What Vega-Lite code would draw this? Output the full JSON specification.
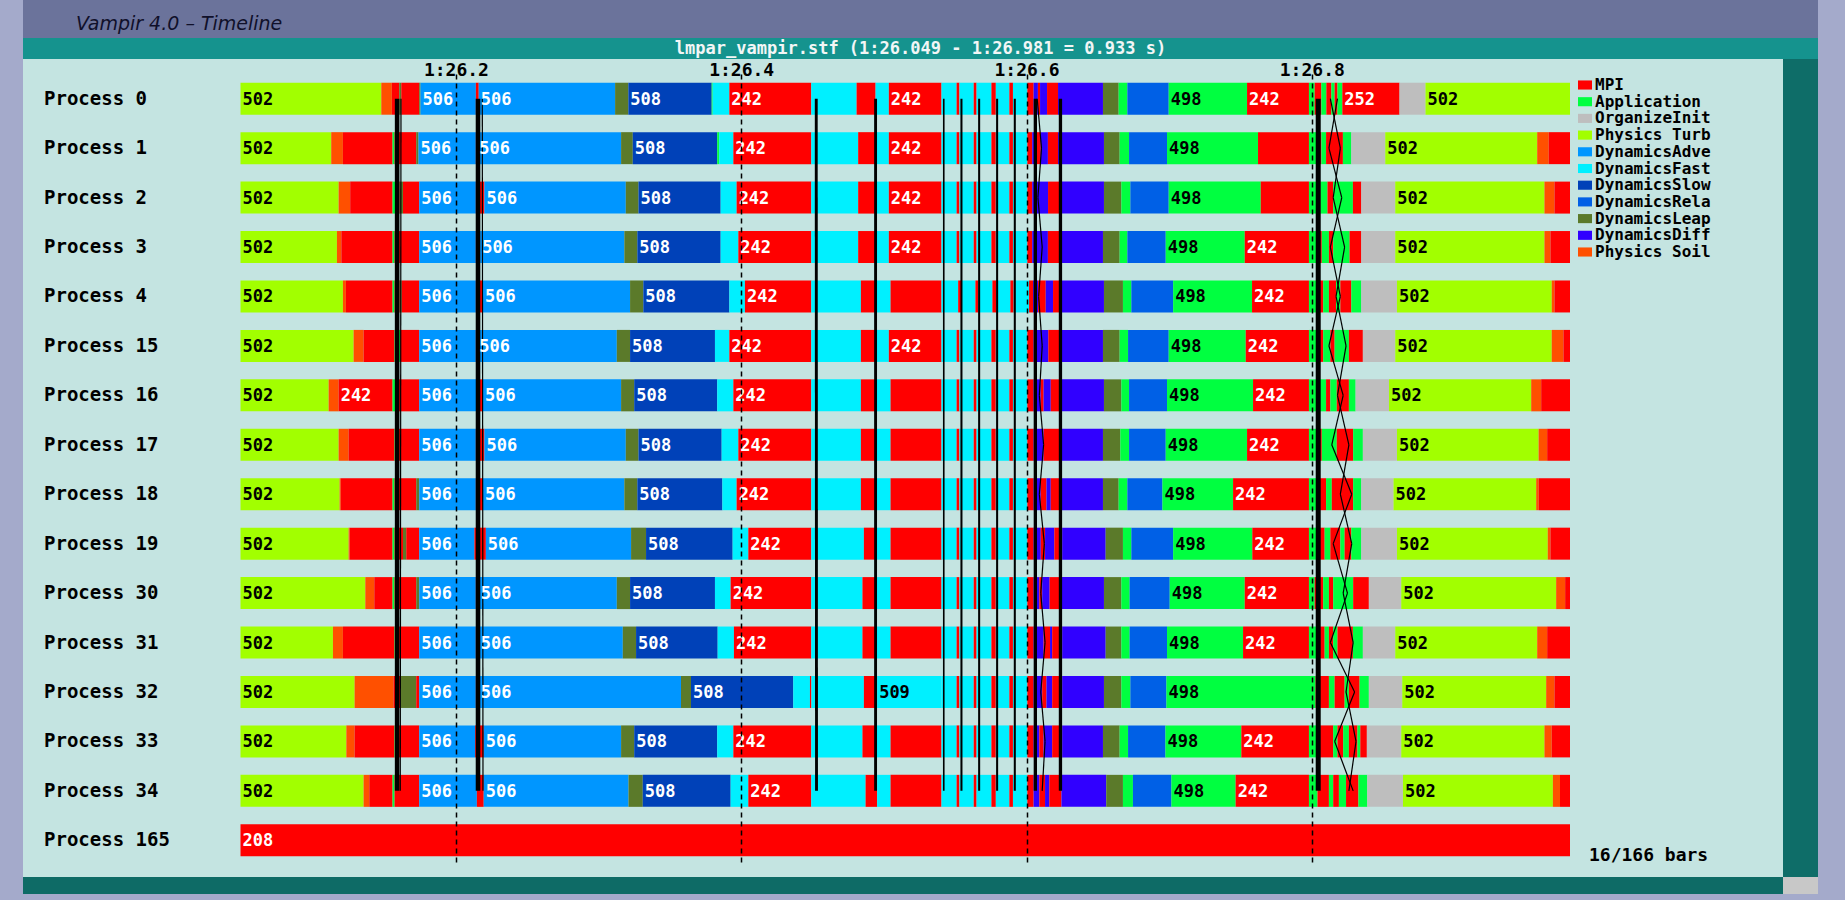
{
"$schema": "https://vega.github.io/schema/vega-lite/v6.json",
"padding": 0,
"background": "#c4e4e1",
"config": {"view": {"stroke": null}},
"spacing": 0,
"datasets": {
"segments": [
{"proc":0,"func":"Physics Turb","t0":49,"t1":147.7,"lab":"502"},
{"proc":0,"func":"Physics Soil","t0":147.7,"t1":155.1},
{"proc":0,"func":"MPI","t0":155.1,"t1":160.3},
{"proc":0,"func":"DynamicsLeap","t0":160.3,"t1":161.7},
{"proc":0,"func":"MPI","t0":161.7,"t1":174.3},
{"proc":0,"func":"DynamicsLeap","t0":174.3,"t1":175.2},
{"proc":0,"func":"DynamicsAdve","t0":175.2,"t1":214,"lab":"506"},
{"proc":0,"func":"MPI","t0":214,"t1":216},
{"proc":0,"func":"DynamicsAdve","t0":216,"t1":311.6,"lab":"506"},
{"proc":0,"func":"DynamicsLeap","t0":311.6,"t1":320.9},
{"proc":0,"func":"DynamicsSlow","t0":320.9,"t1":379.3,"lab":"508"},
{"proc":0,"func":"Application","t0":379.3,"t1":380},
{"proc":0,"func":"DynamicsFast","t0":380,"t1":391.7},
{"proc":0,"func":"MPI","t0":391.7,"t1":449.1,"lab":"242"},
{"proc":0,"func":"DynamicsFast","t0":449.1,"t1":480.9},
{"proc":0,"func":"MPI","t0":480.9,"t1":494.2},
{"proc":0,"func":"DynamicsFast","t0":494.2,"t1":503.5},
{"proc":0,"func":"MPI","t0":503.5,"t1":540.4,"lab":"242"},
{"proc":0,"func":"DynamicsFast","t0":540.4,"t1":551},
{"proc":0,"func":"MPI","t0":551,"t1":553},
{"proc":0,"func":"DynamicsFast","t0":553,"t1":563},
{"proc":0,"func":"MPI","t0":563,"t1":565},
{"proc":0,"func":"DynamicsFast","t0":565,"t1":575.4},
{"proc":0,"func":"MPI","t0":575.4,"t1":578.5},
{"proc":0,"func":"DynamicsFast","t0":578.5,"t1":588},
{"proc":0,"func":"MPI","t0":588,"t1":590.5},
{"proc":0,"func":"DynamicsFast","t0":590.5,"t1":600.6},
{"proc":0,"func":"MPI","t0":600.6,"t1":605},
{"proc":0,"func":"DynamicsDiff","t0":605,"t1":608},
{"proc":0,"func":"MPI","t0":608,"t1":609.5},
{"proc":0,"func":"DynamicsDiff","t0":609.5,"t1":614.4},
{"proc":0,"func":"MPI","t0":614.4,"t1":622.1},
{"proc":0,"func":"DynamicsDiff","t0":622.1,"t1":653.6},
{"proc":0,"func":"DynamicsLeap","t0":653.6,"t1":664.6},
{"proc":0,"func":"Application","t0":664.6,"t1":670.7},
{"proc":0,"func":"DynamicsRela","t0":670.7,"t1":699.7},
{"proc":0,"func":"Application","t0":699.7,"t1":754.6,"lab":"498"},
{"proc":0,"func":"MPI","t0":754.6,"t1":798,"lab":"242"},
{"proc":0,"func":"Application","t0":798,"t1":802},
{"proc":0,"func":"MPI","t0":802,"t1":806.7},
{"proc":0,"func":"Application","t0":806.7,"t1":810.2},
{"proc":0,"func":"MPI","t0":810.2,"t1":813.7},
{"proc":0,"func":"Application","t0":813.7,"t1":816},
{"proc":0,"func":"MPI","t0":816,"t1":818},
{"proc":0,"func":"Application","t0":818,"t1":821.4},
{"proc":0,"func":"MPI","t0":821.4,"t1":861.5,"lab":"252"},
{"proc":0,"func":"OrganizeInit","t0":861.5,"t1":879.7},
{"proc":0,"func":"Physics Turb","t0":879.7,"t1":981,"lab":"502"},

{"proc":1,"func":"Physics Turb","t0":49,"t1":112.6,"lab":"502"},
{"proc":1,"func":"Physics Soil","t0":112.6,"t1":120.8},
{"proc":1,"func":"MPI","t0":120.8,"t1":155.6},
{"proc":1,"func":"Application","t0":155.6,"t1":157},
{"proc":1,"func":"MPI","t0":157,"t1":172.2},
{"proc":1,"func":"DynamicsLeap","t0":172.2,"t1":173.8},
{"proc":1,"func":"DynamicsAdve","t0":173.8,"t1":214,"lab":"506"},
{"proc":1,"func":"MPI","t0":214,"t1":215},
{"proc":1,"func":"DynamicsAdve","t0":215,"t1":315.8,"lab":"506"},
{"proc":1,"func":"DynamicsLeap","t0":315.8,"t1":324},
{"proc":1,"func":"DynamicsSlow","t0":324,"t1":383.2,"lab":"508"},
{"proc":1,"func":"Application","t0":383.2,"t1":384.6},
{"proc":1,"func":"DynamicsFast","t0":384.6,"t1":394.5},
{"proc":1,"func":"MPI","t0":394.5,"t1":449.1,"lab":"242"},
{"proc":1,"func":"DynamicsFast","t0":449.1,"t1":482},
{"proc":1,"func":"MPI","t0":482,"t1":494.2},
{"proc":1,"func":"DynamicsFast","t0":494.2,"t1":503.5},
{"proc":1,"func":"MPI","t0":503.5,"t1":540.4,"lab":"242"},
{"proc":1,"func":"DynamicsFast","t0":540.4,"t1":551},
{"proc":1,"func":"MPI","t0":551,"t1":553},
{"proc":1,"func":"DynamicsFast","t0":553,"t1":563},
{"proc":1,"func":"MPI","t0":563,"t1":565},
{"proc":1,"func":"DynamicsFast","t0":565,"t1":575.4},
{"proc":1,"func":"MPI","t0":575.4,"t1":578.5},
{"proc":1,"func":"DynamicsFast","t0":578.5,"t1":588},
{"proc":1,"func":"MPI","t0":588,"t1":590.5},
{"proc":1,"func":"DynamicsFast","t0":590.5,"t1":600.6},
{"proc":1,"func":"MPI","t0":600.6,"t1":604},
{"proc":1,"func":"DynamicsDiff","t0":604,"t1":607},
{"proc":1,"func":"MPI","t0":607,"t1":610},
{"proc":1,"func":"DynamicsDiff","t0":610,"t1":615},
{"proc":1,"func":"MPI","t0":615,"t1":622.1},
{"proc":1,"func":"DynamicsDiff","t0":622.1,"t1":654.3},
{"proc":1,"func":"DynamicsLeap","t0":654.3,"t1":665.3},
{"proc":1,"func":"Application","t0":665.3,"t1":671.9},
{"proc":1,"func":"DynamicsRela","t0":671.9,"t1":698.5},
{"proc":1,"func":"Application","t0":698.5,"t1":762.3,"lab":"498"},
{"proc":1,"func":"MPI","t0":762.3,"t1":798},
{"proc":1,"func":"Application","t0":798,"t1":803},
{"proc":1,"func":"MPI","t0":803,"t1":806.7},
{"proc":1,"func":"Application","t0":806.7,"t1":810},
{"proc":1,"func":"MPI","t0":810,"t1":821.8},
{"proc":1,"func":"Application","t0":821.8,"t1":827.7},
{"proc":1,"func":"OrganizeInit","t0":827.7,"t1":851.5},
{"proc":1,"func":"Physics Turb","t0":851.5,"t1":958,"lab":"502"},
{"proc":1,"func":"Physics Soil","t0":958,"t1":966.1},
{"proc":1,"func":"MPI","t0":966.1,"t1":981},

{"proc":2,"func":"Physics Turb","t0":49,"t1":117.8,"lab":"502"},
{"proc":2,"func":"Physics Soil","t0":117.8,"t1":125.9},
{"proc":2,"func":"MPI","t0":125.9,"t1":155.6},
{"proc":2,"func":"Application","t0":155.6,"t1":157.5},
{"proc":2,"func":"MPI","t0":157.5,"t1":160.5},
{"proc":2,"func":"DynamicsLeap","t0":160.5,"t1":162.9},
{"proc":2,"func":"MPI","t0":162.9,"t1":174.3},
{"proc":2,"func":"DynamicsAdve","t0":174.3,"t1":214,"lab":"506"},
{"proc":2,"func":"MPI","t0":214,"t1":220},
{"proc":2,"func":"DynamicsAdve","t0":220,"t1":319.1,"lab":"506"},
{"proc":2,"func":"DynamicsLeap","t0":319.1,"t1":328},
{"proc":2,"func":"DynamicsSlow","t0":328,"t1":385.6,"lab":"508"},
{"proc":2,"func":"DynamicsFast","t0":385.6,"t1":396.8},
{"proc":2,"func":"MPI","t0":396.8,"t1":449.1,"lab":"242"},
{"proc":2,"func":"DynamicsFast","t0":449.1,"t1":482},
{"proc":2,"func":"MPI","t0":482,"t1":494.2},
{"proc":2,"func":"DynamicsFast","t0":494.2,"t1":503.5},
{"proc":2,"func":"MPI","t0":503.5,"t1":540.4,"lab":"242"},
{"proc":2,"func":"DynamicsFast","t0":540.4,"t1":551},
{"proc":2,"func":"MPI","t0":551,"t1":553},
{"proc":2,"func":"DynamicsFast","t0":553,"t1":563},
{"proc":2,"func":"MPI","t0":563,"t1":565},
{"proc":2,"func":"DynamicsFast","t0":565,"t1":575.4},
{"proc":2,"func":"MPI","t0":575.4,"t1":578.5},
{"proc":2,"func":"DynamicsFast","t0":578.5,"t1":588},
{"proc":2,"func":"MPI","t0":588,"t1":590.5},
{"proc":2,"func":"DynamicsFast","t0":590.5,"t1":600.6},
{"proc":2,"func":"MPI","t0":600.6,"t1":604},
{"proc":2,"func":"DynamicsDiff","t0":604,"t1":615.1},
{"proc":2,"func":"MPI","t0":615.1,"t1":622.8},
{"proc":2,"func":"DynamicsDiff","t0":622.8,"t1":654.3},
{"proc":2,"func":"DynamicsLeap","t0":654.3,"t1":666.5},
{"proc":2,"func":"Application","t0":666.5,"t1":672.8},
{"proc":2,"func":"DynamicsRela","t0":672.8,"t1":699.7},
{"proc":2,"func":"Application","t0":699.7,"t1":764.2,"lab":"498"},
{"proc":2,"func":"MPI","t0":764.2,"t1":798},
{"proc":2,"func":"Application","t0":798,"t1":803},
{"proc":2,"func":"MPI","t0":803,"t1":806},
{"proc":2,"func":"Application","t0":806,"t1":811},
{"proc":2,"func":"MPI","t0":811,"t1":815},
{"proc":2,"func":"Application","t0":815,"t1":828.8},
{"proc":2,"func":"MPI","t0":828.8,"t1":834.7},
{"proc":2,"func":"OrganizeInit","t0":834.7,"t1":858.5},
{"proc":2,"func":"Physics Turb","t0":858.5,"t1":963.1,"lab":"502"},
{"proc":2,"func":"Physics Soil","t0":963.1,"t1":970.1},
{"proc":2,"func":"MPI","t0":970.1,"t1":981},

{"proc":3,"func":"Physics Turb","t0":49,"t1":116.6,"lab":"502"},
{"proc":3,"func":"Physics Soil","t0":116.6,"t1":119.7},
{"proc":3,"func":"MPI","t0":119.7,"t1":155.6},
{"proc":3,"func":"Application","t0":155.6,"t1":157},
{"proc":3,"func":"MPI","t0":157,"t1":174.3},
{"proc":3,"func":"DynamicsAdve","t0":174.3,"t1":214,"lab":"506"},
{"proc":3,"func":"MPI","t0":214,"t1":217},
{"proc":3,"func":"DynamicsAdve","t0":217,"t1":318.1,"lab":"506"},
{"proc":3,"func":"DynamicsLeap","t0":318.1,"t1":327.2},
{"proc":3,"func":"DynamicsSlow","t0":327.2,"t1":385.6,"lab":"508"},
{"proc":3,"func":"DynamicsFast","t0":385.6,"t1":398},
{"proc":3,"func":"MPI","t0":398,"t1":449.1,"lab":"242"},
{"proc":3,"func":"DynamicsFast","t0":449.1,"t1":482},
{"proc":3,"func":"MPI","t0":482,"t1":494.2},
{"proc":3,"func":"DynamicsFast","t0":494.2,"t1":503.5},
{"proc":3,"func":"MPI","t0":503.5,"t1":540.4,"lab":"242"},
{"proc":3,"func":"DynamicsFast","t0":540.4,"t1":551},
{"proc":3,"func":"MPI","t0":551,"t1":553},
{"proc":3,"func":"DynamicsFast","t0":553,"t1":563},
{"proc":3,"func":"MPI","t0":563,"t1":565},
{"proc":3,"func":"DynamicsFast","t0":565,"t1":575.4},
{"proc":3,"func":"MPI","t0":575.4,"t1":578.5},
{"proc":3,"func":"DynamicsFast","t0":578.5,"t1":588},
{"proc":3,"func":"MPI","t0":588,"t1":590.5},
{"proc":3,"func":"DynamicsFast","t0":590.5,"t1":600.6},
{"proc":3,"func":"MPI","t0":600.6,"t1":604},
{"proc":3,"func":"DynamicsDiff","t0":604,"t1":615},
{"proc":3,"func":"MPI","t0":615,"t1":622.8},
{"proc":3,"func":"DynamicsDiff","t0":622.8,"t1":653.6},
{"proc":3,"func":"DynamicsLeap","t0":653.6,"t1":665.3},
{"proc":3,"func":"Application","t0":665.3,"t1":670.7},
{"proc":3,"func":"DynamicsRela","t0":670.7,"t1":697.6},
{"proc":3,"func":"Application","t0":697.6,"t1":753,"lab":"498"},
{"proc":3,"func":"MPI","t0":753,"t1":798,"lab":"242"},
{"proc":3,"func":"Application","t0":798,"t1":803},
{"proc":3,"func":"MPI","t0":803,"t1":807},
{"proc":3,"func":"Application","t0":807,"t1":812},
{"proc":3,"func":"MPI","t0":812,"t1":815},
{"proc":3,"func":"Application","t0":815,"t1":826.5},
{"proc":3,"func":"MPI","t0":826.5,"t1":834.7},
{"proc":3,"func":"OrganizeInit","t0":834.7,"t1":858.5},
{"proc":3,"func":"Physics Turb","t0":858.5,"t1":963.1,"lab":"502"},
{"proc":3,"func":"Physics Soil","t0":963.1,"t1":967.3},
{"proc":3,"func":"MPI","t0":967.3,"t1":981},

{"proc":4,"func":"Physics Turb","t0":49,"t1":120.8,"lab":"502"},
{"proc":4,"func":"Physics Soil","t0":120.8,"t1":122.9},
{"proc":4,"func":"MPI","t0":122.9,"t1":155.6},
{"proc":4,"func":"Application","t0":155.6,"t1":157},
{"proc":4,"func":"MPI","t0":157,"t1":160.5},
{"proc":4,"func":"DynamicsLeap","t0":160.5,"t1":162},
{"proc":4,"func":"MPI","t0":162,"t1":174.3},
{"proc":4,"func":"DynamicsAdve","t0":174.3,"t1":214,"lab":"506"},
{"proc":4,"func":"MPI","t0":214,"t1":219},
{"proc":4,"func":"DynamicsAdve","t0":219,"t1":322.1,"lab":"506"},
{"proc":4,"func":"DynamicsLeap","t0":322.1,"t1":331.4},
{"proc":4,"func":"DynamicsSlow","t0":331.4,"t1":391.7,"lab":"508"},
{"proc":4,"func":"DynamicsFast","t0":391.7,"t1":402.6},
{"proc":4,"func":"MPI","t0":402.6,"t1":449.1,"lab":"242"},
{"proc":4,"func":"DynamicsFast","t0":449.1,"t1":483.9},
{"proc":4,"func":"MPI","t0":483.9,"t1":494.2},
{"proc":4,"func":"DynamicsFast","t0":494.2,"t1":504.7},
{"proc":4,"func":"MPI","t0":504.7,"t1":540.4},
{"proc":4,"func":"DynamicsFast","t0":540.4,"t1":552.1},
{"proc":4,"func":"MPI","t0":552.1,"t1":554.4},
{"proc":4,"func":"DynamicsFast","t0":554.4,"t1":564.2},
{"proc":4,"func":"MPI","t0":564.2,"t1":566.1},
{"proc":4,"func":"DynamicsFast","t0":566.1,"t1":576.1},
{"proc":4,"func":"MPI","t0":576.1,"t1":578.9},
{"proc":4,"func":"DynamicsFast","t0":578.9,"t1":588.7},
{"proc":4,"func":"MPI","t0":588.7,"t1":591},
{"proc":4,"func":"DynamicsFast","t0":591,"t1":601.8},
{"proc":4,"func":"MPI","t0":601.8,"t1":604.6},
{"proc":4,"func":"DynamicsDiff","t0":604.6,"t1":608.1},
{"proc":4,"func":"MPI","t0":608.1,"t1":613.5},
{"proc":4,"func":"DynamicsDiff","t0":613.5,"t1":618.6},
{"proc":4,"func":"MPI","t0":618.6,"t1":624.5},
{"proc":4,"func":"DynamicsDiff","t0":624.5,"t1":654.3},
{"proc":4,"func":"DynamicsLeap","t0":654.3,"t1":667.6},
{"proc":4,"func":"Application","t0":667.6,"t1":673.5},
{"proc":4,"func":"DynamicsRela","t0":673.5,"t1":702.8},
{"proc":4,"func":"Application","t0":702.8,"t1":758.1,"lab":"498"},
{"proc":4,"func":"MPI","t0":758.1,"t1":798,"lab":"242"},
{"proc":4,"func":"Application","t0":798,"t1":803},
{"proc":4,"func":"MPI","t0":803,"t1":808},
{"proc":4,"func":"Application","t0":808,"t1":812},
{"proc":4,"func":"MPI","t0":812,"t1":817},
{"proc":4,"func":"Application","t0":817,"t1":820},
{"proc":4,"func":"MPI","t0":820,"t1":827.7},
{"proc":4,"func":"Application","t0":827.7,"t1":834.7},
{"proc":4,"func":"OrganizeInit","t0":834.7,"t1":859.7},
{"proc":4,"func":"Physics Turb","t0":859.7,"t1":968.2,"lab":"502"},
{"proc":4,"func":"Physics Soil","t0":968.2,"t1":970.1},
{"proc":4,"func":"MPI","t0":970.1,"t1":981},

{"proc":15,"func":"Physics Turb","t0":49,"t1":128.3,"lab":"502"},
{"proc":15,"func":"Physics Soil","t0":128.3,"t1":135.3},
{"proc":15,"func":"MPI","t0":135.3,"t1":157},
{"proc":15,"func":"Application","t0":157,"t1":161},
{"proc":15,"func":"MPI","t0":161,"t1":174.3},
{"proc":15,"func":"DynamicsAdve","t0":174.3,"t1":214,"lab":"506"},
{"proc":15,"func":"MPI","t0":214,"t1":215},
{"proc":15,"func":"DynamicsAdve","t0":215,"t1":312.8,"lab":"506"},
{"proc":15,"func":"DynamicsLeap","t0":312.8,"t1":322.1},
{"proc":15,"func":"DynamicsSlow","t0":322.1,"t1":381.6,"lab":"508"},
{"proc":15,"func":"DynamicsFast","t0":381.6,"t1":391.7},
{"proc":15,"func":"MPI","t0":391.7,"t1":449.1,"lab":"242"},
{"proc":15,"func":"DynamicsFast","t0":449.1,"t1":483.9},
{"proc":15,"func":"MPI","t0":483.9,"t1":494.2},
{"proc":15,"func":"DynamicsFast","t0":494.2,"t1":503.5},
{"proc":15,"func":"MPI","t0":503.5,"t1":540.4,"lab":"242"},
{"proc":15,"func":"DynamicsFast","t0":540.4,"t1":551},
{"proc":15,"func":"MPI","t0":551,"t1":553},
{"proc":15,"func":"DynamicsFast","t0":553,"t1":563},
{"proc":15,"func":"MPI","t0":563,"t1":565},
{"proc":15,"func":"DynamicsFast","t0":565,"t1":575.4},
{"proc":15,"func":"MPI","t0":575.4,"t1":578.5},
{"proc":15,"func":"DynamicsFast","t0":578.5,"t1":588},
{"proc":15,"func":"MPI","t0":588,"t1":590.5},
{"proc":15,"func":"DynamicsFast","t0":590.5,"t1":600.6},
{"proc":15,"func":"MPI","t0":600.6,"t1":605},
{"proc":15,"func":"DynamicsDiff","t0":605,"t1":615.3},
{"proc":15,"func":"MPI","t0":615.3,"t1":622.8},
{"proc":15,"func":"DynamicsDiff","t0":622.8,"t1":653.6},
{"proc":15,"func":"DynamicsLeap","t0":653.6,"t1":665.3},
{"proc":15,"func":"Application","t0":665.3,"t1":671.2},
{"proc":15,"func":"DynamicsRela","t0":671.2,"t1":699.7},
{"proc":15,"func":"Application","t0":699.7,"t1":753.7,"lab":"498"},
{"proc":15,"func":"MPI","t0":753.7,"t1":798,"lab":"242"},
{"proc":15,"func":"Application","t0":798,"t1":803},
{"proc":15,"func":"MPI","t0":803,"t1":808},
{"proc":15,"func":"Application","t0":808,"t1":813},
{"proc":15,"func":"MPI","t0":813,"t1":816},
{"proc":15,"func":"Application","t0":816,"t1":826},
{"proc":15,"func":"MPI","t0":826,"t1":835.8},
{"proc":15,"func":"OrganizeInit","t0":835.8,"t1":858.5},
{"proc":15,"func":"Physics Turb","t0":858.5,"t1":968.2,"lab":"502"},
{"proc":15,"func":"Physics Soil","t0":968.2,"t1":976.4},
{"proc":15,"func":"MPI","t0":976.4,"t1":981},

{"proc":16,"func":"Physics Turb","t0":49,"t1":110.8,"lab":"502"},
{"proc":16,"func":"Physics Soil","t0":110.8,"t1":117.8},
{"proc":16,"func":"MPI","t0":117.8,"t1":155.6,"lab":"242"},
{"proc":16,"func":"Application","t0":155.6,"t1":157.5},
{"proc":16,"func":"MPI","t0":157.5,"t1":174.3},
{"proc":16,"func":"DynamicsAdve","t0":174.3,"t1":216,"lab":"506"},
{"proc":16,"func":"MPI","t0":216,"t1":219},
{"proc":16,"func":"DynamicsAdve","t0":219,"t1":315.8,"lab":"506"},
{"proc":16,"func":"DynamicsLeap","t0":315.8,"t1":325},
{"proc":16,"func":"DynamicsSlow","t0":325,"t1":383.2,"lab":"508"},
{"proc":16,"func":"DynamicsFast","t0":383.2,"t1":394.5},
{"proc":16,"func":"MPI","t0":394.5,"t1":449.1,"lab":"242"},
{"proc":16,"func":"DynamicsFast","t0":449.1,"t1":483.9},
{"proc":16,"func":"MPI","t0":483.9,"t1":494.2},
{"proc":16,"func":"DynamicsFast","t0":494.2,"t1":504.7},
{"proc":16,"func":"MPI","t0":504.7,"t1":540.4},
{"proc":16,"func":"DynamicsFast","t0":540.4,"t1":551},
{"proc":16,"func":"MPI","t0":551,"t1":553},
{"proc":16,"func":"DynamicsFast","t0":553,"t1":563},
{"proc":16,"func":"MPI","t0":563,"t1":565},
{"proc":16,"func":"DynamicsFast","t0":565,"t1":575.4},
{"proc":16,"func":"MPI","t0":575.4,"t1":578.5},
{"proc":16,"func":"DynamicsFast","t0":578.5,"t1":588},
{"proc":16,"func":"MPI","t0":588,"t1":590.5},
{"proc":16,"func":"DynamicsFast","t0":590.5,"t1":600.6},
{"proc":16,"func":"MPI","t0":600.6,"t1":605},
{"proc":16,"func":"DynamicsDiff","t0":605,"t1":610},
{"proc":16,"func":"MPI","t0":610,"t1":612},
{"proc":16,"func":"DynamicsDiff","t0":612,"t1":617},
{"proc":16,"func":"MPI","t0":617,"t1":622.8},
{"proc":16,"func":"DynamicsDiff","t0":622.8,"t1":654.3},
{"proc":16,"func":"DynamicsLeap","t0":654.3,"t1":666.5},
{"proc":16,"func":"Application","t0":666.5,"t1":671.9},
{"proc":16,"func":"DynamicsRela","t0":671.9,"t1":698.5},
{"proc":16,"func":"Application","t0":698.5,"t1":758.8,"lab":"498"},
{"proc":16,"func":"MPI","t0":758.8,"t1":798,"lab":"242"},
{"proc":16,"func":"Application","t0":798,"t1":810},
{"proc":16,"func":"MPI","t0":810,"t1":813},
{"proc":16,"func":"Application","t0":813,"t1":817.5},
{"proc":16,"func":"MPI","t0":817.5,"t1":826},
{"proc":16,"func":"Application","t0":826,"t1":830.7},
{"proc":16,"func":"OrganizeInit","t0":830.7,"t1":854.1},
{"proc":16,"func":"Physics Turb","t0":854.1,"t1":953.8,"lab":"502"},
{"proc":16,"func":"Physics Soil","t0":953.8,"t1":960.8},
{"proc":16,"func":"MPI","t0":960.8,"t1":981},

{"proc":17,"func":"Physics Turb","t0":49,"t1":117.8,"lab":"502"},
{"proc":17,"func":"Physics Soil","t0":117.8,"t1":124.8},
{"proc":17,"func":"MPI","t0":124.8,"t1":157},
{"proc":17,"func":"Application","t0":157,"t1":159},
{"proc":17,"func":"MPI","t0":159,"t1":174.3},
{"proc":17,"func":"DynamicsAdve","t0":174.3,"t1":214,"lab":"506"},
{"proc":17,"func":"MPI","t0":214,"t1":220},
{"proc":17,"func":"DynamicsAdve","t0":220,"t1":319.1,"lab":"506"},
{"proc":17,"func":"DynamicsLeap","t0":319.1,"t1":328},
{"proc":17,"func":"DynamicsSlow","t0":328,"t1":386.3,"lab":"508"},
{"proc":17,"func":"DynamicsFast","t0":386.3,"t1":398},
{"proc":17,"func":"MPI","t0":398,"t1":449.1,"lab":"242"},
{"proc":17,"func":"DynamicsFast","t0":449.1,"t1":483.9},
{"proc":17,"func":"MPI","t0":483.9,"t1":494.2},
{"proc":17,"func":"DynamicsFast","t0":494.2,"t1":504.7},
{"proc":17,"func":"MPI","t0":504.7,"t1":540.4},
{"proc":17,"func":"DynamicsFast","t0":540.4,"t1":551},
{"proc":17,"func":"MPI","t0":551,"t1":553},
{"proc":17,"func":"DynamicsFast","t0":553,"t1":563},
{"proc":17,"func":"MPI","t0":563,"t1":565},
{"proc":17,"func":"DynamicsFast","t0":565,"t1":575.4},
{"proc":17,"func":"MPI","t0":575.4,"t1":578.5},
{"proc":17,"func":"DynamicsFast","t0":578.5,"t1":588},
{"proc":17,"func":"MPI","t0":588,"t1":590.5},
{"proc":17,"func":"DynamicsFast","t0":590.5,"t1":600.6},
{"proc":17,"func":"MPI","t0":600.6,"t1":605},
{"proc":17,"func":"DynamicsDiff","t0":605,"t1":612},
{"proc":17,"func":"MPI","t0":612,"t1":622.8},
{"proc":17,"func":"DynamicsDiff","t0":622.8,"t1":653.6},
{"proc":17,"func":"DynamicsLeap","t0":653.6,"t1":665.8},
{"proc":17,"func":"Application","t0":665.8,"t1":671.9},
{"proc":17,"func":"DynamicsRela","t0":671.9,"t1":697.6},
{"proc":17,"func":"Application","t0":697.6,"t1":754.6,"lab":"498"},
{"proc":17,"func":"MPI","t0":754.6,"t1":798,"lab":"242"},
{"proc":17,"func":"Application","t0":798,"t1":803},
{"proc":17,"func":"MPI","t0":803,"t1":807},
{"proc":17,"func":"Application","t0":807,"t1":817.5},
{"proc":17,"func":"MPI","t0":817.5,"t1":829},
{"proc":17,"func":"Application","t0":829,"t1":835.8},
{"proc":17,"func":"OrganizeInit","t0":835.8,"t1":859.7},
{"proc":17,"func":"Physics Turb","t0":859.7,"t1":959,"lab":"502"},
{"proc":17,"func":"Physics Soil","t0":959,"t1":965},
{"proc":17,"func":"MPI","t0":965,"t1":981},

{"proc":18,"func":"Physics Turb","t0":49,"t1":118.5,"lab":"502"},
{"proc":18,"func":"Physics Soil","t0":118.5,"t1":119.3},
{"proc":18,"func":"MPI","t0":119.3,"t1":155.6},
{"proc":18,"func":"Application","t0":155.6,"t1":157},
{"proc":18,"func":"MPI","t0":157,"t1":172.2},
{"proc":18,"func":"DynamicsLeap","t0":172.2,"t1":174.3},
{"proc":18,"func":"DynamicsAdve","t0":174.3,"t1":214,"lab":"506"},
{"proc":18,"func":"MPI","t0":214,"t1":219},
{"proc":18,"func":"DynamicsAdve","t0":219,"t1":318.1,"lab":"506"},
{"proc":18,"func":"DynamicsLeap","t0":318.1,"t1":327.2},
{"proc":18,"func":"DynamicsSlow","t0":327.2,"t1":386.8,"lab":"508"},
{"proc":18,"func":"DynamicsFast","t0":386.8,"t1":396.8},
{"proc":18,"func":"MPI","t0":396.8,"t1":449.1,"lab":"242"},
{"proc":18,"func":"DynamicsFast","t0":449.1,"t1":483.9},
{"proc":18,"func":"MPI","t0":483.9,"t1":494.2},
{"proc":18,"func":"DynamicsFast","t0":494.2,"t1":504.7},
{"proc":18,"func":"MPI","t0":504.7,"t1":540.4},
{"proc":18,"func":"DynamicsFast","t0":540.4,"t1":551},
{"proc":18,"func":"MPI","t0":551,"t1":553},
{"proc":18,"func":"DynamicsFast","t0":553,"t1":563},
{"proc":18,"func":"MPI","t0":563,"t1":565},
{"proc":18,"func":"DynamicsFast","t0":565,"t1":575.4},
{"proc":18,"func":"MPI","t0":575.4,"t1":578.5},
{"proc":18,"func":"DynamicsFast","t0":578.5,"t1":588},
{"proc":18,"func":"MPI","t0":588,"t1":590.5},
{"proc":18,"func":"DynamicsFast","t0":590.5,"t1":600.6},
{"proc":18,"func":"MPI","t0":600.6,"t1":605},
{"proc":18,"func":"DynamicsDiff","t0":605,"t1":610},
{"proc":18,"func":"MPI","t0":610,"t1":614},
{"proc":18,"func":"DynamicsDiff","t0":614,"t1":617},
{"proc":18,"func":"MPI","t0":617,"t1":622.8},
{"proc":18,"func":"DynamicsDiff","t0":622.8,"t1":653.6},
{"proc":18,"func":"DynamicsLeap","t0":653.6,"t1":664.6},
{"proc":18,"func":"Application","t0":664.6,"t1":670.7},
{"proc":18,"func":"DynamicsRela","t0":670.7,"t1":695.3},
{"proc":18,"func":"Application","t0":695.3,"t1":744.8,"lab":"498"},
{"proc":18,"func":"MPI","t0":744.8,"t1":798,"lab":"242"},
{"proc":18,"func":"Application","t0":798,"t1":803},
{"proc":18,"func":"MPI","t0":803,"t1":810},
{"proc":18,"func":"Application","t0":810,"t1":814},
{"proc":18,"func":"MPI","t0":814,"t1":829},
{"proc":18,"func":"Application","t0":829,"t1":834.7},
{"proc":18,"func":"OrganizeInit","t0":834.7,"t1":857.3},
{"proc":18,"func":"Physics Turb","t0":857.3,"t1":957.3,"lab":"502"},
{"proc":18,"func":"Physics Soil","t0":957.3,"t1":959.1},
{"proc":18,"func":"MPI","t0":959.1,"t1":981},

{"proc":19,"func":"Physics Turb","t0":49,"t1":124.8,"lab":"502"},
{"proc":19,"func":"Physics Soil","t0":124.8,"t1":125.5},
{"proc":19,"func":"MPI","t0":125.5,"t1":155.6},
{"proc":19,"func":"Application","t0":155.6,"t1":157},
{"proc":19,"func":"MPI","t0":157,"t1":162.9},
{"proc":19,"func":"DynamicsLeap","t0":162.9,"t1":165.2},
{"proc":19,"func":"MPI","t0":165.2,"t1":174.3},
{"proc":19,"func":"DynamicsAdve","t0":174.3,"t1":213,"lab":"506"},
{"proc":19,"func":"MPI","t0":213,"t1":221},
{"proc":19,"func":"DynamicsAdve","t0":221,"t1":322.8,"lab":"506"},
{"proc":19,"func":"DynamicsLeap","t0":322.8,"t1":333.3},
{"proc":19,"func":"DynamicsSlow","t0":333.3,"t1":394,"lab":"508"},
{"proc":19,"func":"DynamicsFast","t0":394,"t1":405},
{"proc":19,"func":"MPI","t0":405,"t1":449.1,"lab":"242"},
{"proc":19,"func":"DynamicsFast","t0":449.1,"t1":486},
{"proc":19,"func":"MPI","t0":486,"t1":494.2},
{"proc":19,"func":"DynamicsFast","t0":494.2,"t1":504.7},
{"proc":19,"func":"MPI","t0":504.7,"t1":540.4},
{"proc":19,"func":"DynamicsFast","t0":540.4,"t1":551},
{"proc":19,"func":"MPI","t0":551,"t1":553},
{"proc":19,"func":"DynamicsFast","t0":553,"t1":563},
{"proc":19,"func":"MPI","t0":563,"t1":565},
{"proc":19,"func":"DynamicsFast","t0":565,"t1":575.4},
{"proc":19,"func":"MPI","t0":575.4,"t1":578.5},
{"proc":19,"func":"DynamicsFast","t0":578.5,"t1":588},
{"proc":19,"func":"MPI","t0":588,"t1":590.5},
{"proc":19,"func":"DynamicsFast","t0":590.5,"t1":600.6},
{"proc":19,"func":"MPI","t0":600.6,"t1":605},
{"proc":19,"func":"DynamicsDiff","t0":605,"t1":610},
{"proc":19,"func":"MPI","t0":610,"t1":613},
{"proc":19,"func":"DynamicsDiff","t0":613,"t1":619.5},
{"proc":19,"func":"MPI","t0":619.5,"t1":625},
{"proc":19,"func":"DynamicsDiff","t0":625,"t1":655.5},
{"proc":19,"func":"DynamicsLeap","t0":655.5,"t1":667.6},
{"proc":19,"func":"Application","t0":667.6,"t1":673.5},
{"proc":19,"func":"DynamicsRela","t0":673.5,"t1":702.8},
{"proc":19,"func":"Application","t0":702.8,"t1":758.3,"lab":"498"},
{"proc":19,"func":"MPI","t0":758.3,"t1":798,"lab":"242"},
{"proc":19,"func":"Application","t0":798,"t1":803},
{"proc":19,"func":"MPI","t0":803,"t1":809},
{"proc":19,"func":"Application","t0":809,"t1":813},
{"proc":19,"func":"MPI","t0":813,"t1":820},
{"proc":19,"func":"Application","t0":820,"t1":823},
{"proc":19,"func":"MPI","t0":823,"t1":827.7},
{"proc":19,"func":"Application","t0":827.7,"t1":834.7},
{"proc":19,"func":"OrganizeInit","t0":834.7,"t1":859.7},
{"proc":19,"func":"Physics Turb","t0":859.7,"t1":965.4,"lab":"502"},
{"proc":19,"func":"Physics Soil","t0":965.4,"t1":967.3},
{"proc":19,"func":"MPI","t0":967.3,"t1":981},

{"proc":30,"func":"Physics Turb","t0":49,"t1":136.5,"lab":"502"},
{"proc":30,"func":"Physics Soil","t0":136.5,"t1":142.8},
{"proc":30,"func":"MPI","t0":142.8,"t1":155.6},
{"proc":30,"func":"Application","t0":155.6,"t1":157},
{"proc":30,"func":"MPI","t0":157,"t1":172.2},
{"proc":30,"func":"DynamicsLeap","t0":172.2,"t1":174.3},
{"proc":30,"func":"DynamicsAdve","t0":174.3,"t1":214,"lab":"506"},
{"proc":30,"func":"MPI","t0":214,"t1":216},
{"proc":30,"func":"DynamicsAdve","t0":216,"t1":312.8,"lab":"506"},
{"proc":30,"func":"DynamicsLeap","t0":312.8,"t1":322.1},
{"proc":30,"func":"DynamicsSlow","t0":322.1,"t1":381.6,"lab":"508"},
{"proc":30,"func":"DynamicsFast","t0":381.6,"t1":392.6},
{"proc":30,"func":"MPI","t0":392.6,"t1":449.1,"lab":"242"},
{"proc":30,"func":"DynamicsFast","t0":449.1,"t1":485},
{"proc":30,"func":"MPI","t0":485,"t1":494.2},
{"proc":30,"func":"DynamicsFast","t0":494.2,"t1":504.7},
{"proc":30,"func":"MPI","t0":504.7,"t1":540.4},
{"proc":30,"func":"DynamicsFast","t0":540.4,"t1":551},
{"proc":30,"func":"MPI","t0":551,"t1":553},
{"proc":30,"func":"DynamicsFast","t0":553,"t1":563},
{"proc":30,"func":"MPI","t0":563,"t1":565},
{"proc":30,"func":"DynamicsFast","t0":565,"t1":575.4},
{"proc":30,"func":"MPI","t0":575.4,"t1":578.5},
{"proc":30,"func":"DynamicsFast","t0":578.5,"t1":588},
{"proc":30,"func":"MPI","t0":588,"t1":590.5},
{"proc":30,"func":"DynamicsFast","t0":590.5,"t1":600.6},
{"proc":30,"func":"MPI","t0":600.6,"t1":605},
{"proc":30,"func":"DynamicsDiff","t0":605,"t1":609},
{"proc":30,"func":"MPI","t0":609,"t1":611},
{"proc":30,"func":"DynamicsDiff","t0":611,"t1":616.2},
{"proc":30,"func":"MPI","t0":616.2,"t1":622.8},
{"proc":30,"func":"DynamicsDiff","t0":622.8,"t1":654.3},
{"proc":30,"func":"DynamicsLeap","t0":654.3,"t1":666.5},
{"proc":30,"func":"Application","t0":666.5,"t1":672.3},
{"proc":30,"func":"DynamicsRela","t0":672.3,"t1":700.4},
{"proc":30,"func":"Application","t0":700.4,"t1":753,"lab":"498"},
{"proc":30,"func":"MPI","t0":753,"t1":798,"lab":"242"},
{"proc":30,"func":"Application","t0":798,"t1":802},
{"proc":30,"func":"MPI","t0":802,"t1":808},
{"proc":30,"func":"Application","t0":808,"t1":812},
{"proc":30,"func":"MPI","t0":812,"t1":815},
{"proc":30,"func":"Application","t0":815,"t1":829},
{"proc":30,"func":"MPI","t0":829,"t1":840},
{"proc":30,"func":"OrganizeInit","t0":840,"t1":862.7},
{"proc":30,"func":"Physics Turb","t0":862.7,"t1":971.3,"lab":"502"},
{"proc":30,"func":"Physics Soil","t0":971.3,"t1":977.6},
{"proc":30,"func":"MPI","t0":977.6,"t1":981},

{"proc":31,"func":"Physics Turb","t0":49,"t1":113.8,"lab":"502"},
{"proc":31,"func":"Physics Soil","t0":113.8,"t1":120.8},
{"proc":31,"func":"MPI","t0":120.8,"t1":157},
{"proc":31,"func":"Application","t0":157,"t1":159},
{"proc":31,"func":"MPI","t0":159,"t1":174.3},
{"proc":31,"func":"DynamicsAdve","t0":174.3,"t1":214,"lab":"506"},
{"proc":31,"func":"MPI","t0":214,"t1":216},
{"proc":31,"func":"DynamicsAdve","t0":216,"t1":317,"lab":"506"},
{"proc":31,"func":"DynamicsLeap","t0":317,"t1":326.3},
{"proc":31,"func":"DynamicsSlow","t0":326.3,"t1":383.5,"lab":"508"},
{"proc":31,"func":"DynamicsFast","t0":383.5,"t1":394.9},
{"proc":31,"func":"MPI","t0":394.9,"t1":449.1,"lab":"242"},
{"proc":31,"func":"DynamicsFast","t0":449.1,"t1":485},
{"proc":31,"func":"MPI","t0":485,"t1":494.2},
{"proc":31,"func":"DynamicsFast","t0":494.2,"t1":504.7},
{"proc":31,"func":"MPI","t0":504.7,"t1":540.4},
{"proc":31,"func":"DynamicsFast","t0":540.4,"t1":551},
{"proc":31,"func":"MPI","t0":551,"t1":553},
{"proc":31,"func":"DynamicsFast","t0":553,"t1":563},
{"proc":31,"func":"MPI","t0":563,"t1":565},
{"proc":31,"func":"DynamicsFast","t0":565,"t1":575.4},
{"proc":31,"func":"MPI","t0":575.4,"t1":578.5},
{"proc":31,"func":"DynamicsFast","t0":578.5,"t1":588},
{"proc":31,"func":"MPI","t0":588,"t1":590.5},
{"proc":31,"func":"DynamicsFast","t0":590.5,"t1":600.6},
{"proc":31,"func":"MPI","t0":600.6,"t1":605},
{"proc":31,"func":"DynamicsDiff","t0":605,"t1":612},
{"proc":31,"func":"MPI","t0":612,"t1":616.5},
{"proc":31,"func":"DynamicsDiff","t0":616.5,"t1":618},
{"proc":31,"func":"MPI","t0":618,"t1":625},
{"proc":31,"func":"DynamicsDiff","t0":625,"t1":655.5},
{"proc":31,"func":"DynamicsLeap","t0":655.5,"t1":666.5},
{"proc":31,"func":"Application","t0":666.5,"t1":672.3},
{"proc":31,"func":"DynamicsRela","t0":672.3,"t1":698.5},
{"proc":31,"func":"Application","t0":698.5,"t1":751.8,"lab":"498"},
{"proc":31,"func":"MPI","t0":751.8,"t1":798,"lab":"242"},
{"proc":31,"func":"Application","t0":798,"t1":803},
{"proc":31,"func":"MPI","t0":803,"t1":809},
{"proc":31,"func":"Application","t0":809,"t1":812},
{"proc":31,"func":"MPI","t0":812,"t1":815},
{"proc":31,"func":"Application","t0":815,"t1":818},
{"proc":31,"func":"MPI","t0":818,"t1":828.8},
{"proc":31,"func":"Application","t0":828.8,"t1":835.8},
{"proc":31,"func":"OrganizeInit","t0":835.8,"t1":858.5},
{"proc":31,"func":"Physics Turb","t0":858.5,"t1":958,"lab":"502"},
{"proc":31,"func":"Physics Soil","t0":958,"t1":965},
{"proc":31,"func":"MPI","t0":965,"t1":981},

{"proc":32,"func":"Physics Turb","t0":49,"t1":129,"lab":"502"},
{"proc":32,"func":"Physics Soil","t0":129,"t1":156.3},
{"proc":32,"func":"MPI","t0":156.3,"t1":161},
{"proc":32,"func":"DynamicsLeap","t0":161,"t1":172.2},
{"proc":32,"func":"MPI","t0":172.2,"t1":174.3},
{"proc":32,"func":"DynamicsAdve","t0":174.3,"t1":214,"lab":"506"},
{"proc":32,"func":"MPI","t0":214,"t1":216},
{"proc":32,"func":"DynamicsAdve","t0":216,"t1":357.8,"lab":"506"},
{"proc":32,"func":"DynamicsLeap","t0":357.8,"t1":364.8},
{"proc":32,"func":"DynamicsSlow","t0":364.8,"t1":436.5,"lab":"508"},
{"proc":32,"func":"DynamicsFast","t0":436.5,"t1":448.2},
{"proc":32,"func":"MPI","t0":448.2,"t1":449.2},
{"proc":32,"func":"DynamicsFast","t0":449.2,"t1":486},
{"proc":32,"func":"MPI","t0":486,"t1":495.3},
{"proc":32,"func":"DynamicsFast","t0":495.3,"t1":540.4,"lab":"509"},
{"proc":32,"func":"DynamicsFast","t0":540.4,"t1":551},
{"proc":32,"func":"MPI","t0":551,"t1":553},
{"proc":32,"func":"DynamicsFast","t0":553,"t1":563},
{"proc":32,"func":"MPI","t0":563,"t1":565},
{"proc":32,"func":"DynamicsFast","t0":565,"t1":575.4},
{"proc":32,"func":"MPI","t0":575.4,"t1":578.5},
{"proc":32,"func":"DynamicsFast","t0":578.5,"t1":588},
{"proc":32,"func":"MPI","t0":588,"t1":590.5},
{"proc":32,"func":"DynamicsFast","t0":590.5,"t1":600.6},
{"proc":32,"func":"MPI","t0":600.6,"t1":605},
{"proc":32,"func":"DynamicsDiff","t0":605,"t1":611},
{"proc":32,"func":"MPI","t0":611,"t1":614},
{"proc":32,"func":"DynamicsDiff","t0":614,"t1":618},
{"proc":32,"func":"MPI","t0":618,"t1":625},
{"proc":32,"func":"DynamicsDiff","t0":625,"t1":654.3},
{"proc":32,"func":"DynamicsLeap","t0":654.3,"t1":666.5},
{"proc":32,"func":"Application","t0":666.5,"t1":672.8},
{"proc":32,"func":"DynamicsRela","t0":672.8,"t1":698.1},
{"proc":32,"func":"Application","t0":698.1,"t1":802.7,"lab":"498"},
{"proc":32,"func":"MPI","t0":802.7,"t1":812},
{"proc":32,"func":"Application","t0":812,"t1":816},
{"proc":32,"func":"MPI","t0":816,"t1":823},
{"proc":32,"func":"Application","t0":823,"t1":826},
{"proc":32,"func":"MPI","t0":826,"t1":833.5},
{"proc":32,"func":"Application","t0":833.5,"t1":840},
{"proc":32,"func":"OrganizeInit","t0":840,"t1":863.4},
{"proc":32,"func":"Physics Turb","t0":863.4,"t1":964.3,"lab":"502"},
{"proc":32,"func":"Physics Soil","t0":964.3,"t1":970.1},
{"proc":32,"func":"MPI","t0":970.1,"t1":981},

{"proc":33,"func":"Physics Turb","t0":49,"t1":123.2,"lab":"502"},
{"proc":33,"func":"Physics Soil","t0":123.2,"t1":129},
{"proc":33,"func":"MPI","t0":129,"t1":157},
{"proc":33,"func":"Application","t0":157,"t1":159},
{"proc":33,"func":"MPI","t0":159,"t1":174.3},
{"proc":33,"func":"DynamicsAdve","t0":174.3,"t1":213.5,"lab":"506"},
{"proc":33,"func":"MPI","t0":213.5,"t1":219.5},
{"proc":33,"func":"DynamicsAdve","t0":219.5,"t1":315.8,"lab":"506"},
{"proc":33,"func":"DynamicsLeap","t0":315.8,"t1":325},
{"proc":33,"func":"DynamicsSlow","t0":325,"t1":383.2,"lab":"508"},
{"proc":33,"func":"DynamicsFast","t0":383.2,"t1":394.5},
{"proc":33,"func":"MPI","t0":394.5,"t1":449.1,"lab":"242"},
{"proc":33,"func":"DynamicsFast","t0":449.1,"t1":485},
{"proc":33,"func":"MPI","t0":485,"t1":494.2},
{"proc":33,"func":"DynamicsFast","t0":494.2,"t1":504.7},
{"proc":33,"func":"MPI","t0":504.7,"t1":540.4},
{"proc":33,"func":"DynamicsFast","t0":540.4,"t1":551},
{"proc":33,"func":"MPI","t0":551,"t1":553},
{"proc":33,"func":"DynamicsFast","t0":553,"t1":563},
{"proc":33,"func":"MPI","t0":563,"t1":565},
{"proc":33,"func":"DynamicsFast","t0":565,"t1":575.4},
{"proc":33,"func":"MPI","t0":575.4,"t1":578.5},
{"proc":33,"func":"DynamicsFast","t0":578.5,"t1":588},
{"proc":33,"func":"MPI","t0":588,"t1":590.5},
{"proc":33,"func":"DynamicsFast","t0":590.5,"t1":600.6},
{"proc":33,"func":"MPI","t0":600.6,"t1":605},
{"proc":33,"func":"DynamicsDiff","t0":605,"t1":609},
{"proc":33,"func":"MPI","t0":609,"t1":612},
{"proc":33,"func":"DynamicsDiff","t0":612,"t1":618},
{"proc":33,"func":"MPI","t0":618,"t1":625},
{"proc":33,"func":"DynamicsDiff","t0":625,"t1":653.6},
{"proc":33,"func":"DynamicsLeap","t0":653.6,"t1":665.3},
{"proc":33,"func":"Application","t0":665.3,"t1":671.2},
{"proc":33,"func":"DynamicsRela","t0":671.2,"t1":697.4},
{"proc":33,"func":"Application","t0":697.4,"t1":750.6,"lab":"498"},
{"proc":33,"func":"MPI","t0":750.6,"t1":798,"lab":"242"},
{"proc":33,"func":"Application","t0":798,"t1":803},
{"proc":33,"func":"MPI","t0":803,"t1":815},
{"proc":33,"func":"Application","t0":815,"t1":818},
{"proc":33,"func":"MPI","t0":818,"t1":822},
{"proc":33,"func":"Application","t0":822,"t1":826},
{"proc":33,"func":"MPI","t0":826,"t1":832},
{"proc":33,"func":"Application","t0":832,"t1":834},
{"proc":33,"func":"MPI","t0":834,"t1":838.6},
{"proc":33,"func":"OrganizeInit","t0":838.6,"t1":862.7},
{"proc":33,"func":"Physics Turb","t0":862.7,"t1":963.1,"lab":"502"},
{"proc":33,"func":"Physics Soil","t0":963.1,"t1":968.2},
{"proc":33,"func":"MPI","t0":968.2,"t1":981},

{"proc":34,"func":"Physics Turb","t0":49,"t1":135.3,"lab":"502"},
{"proc":34,"func":"Physics Soil","t0":135.3,"t1":139.3},
{"proc":34,"func":"MPI","t0":139.3,"t1":155.6},
{"proc":34,"func":"Application","t0":155.6,"t1":157},
{"proc":34,"func":"MPI","t0":157,"t1":174.3},
{"proc":34,"func":"DynamicsAdve","t0":174.3,"t1":214.7,"lab":"506"},
{"proc":34,"func":"MPI","t0":214.7,"t1":219.5},
{"proc":34,"func":"DynamicsAdve","t0":219.5,"t1":321,"lab":"506"},
{"proc":34,"func":"DynamicsLeap","t0":321,"t1":331},
{"proc":34,"func":"DynamicsSlow","t0":331,"t1":392.6,"lab":"508"},
{"proc":34,"func":"DynamicsFast","t0":392.6,"t1":405},
{"proc":34,"func":"MPI","t0":405,"t1":449.1,"lab":"242"},
{"proc":34,"func":"DynamicsFast","t0":449.1,"t1":487.2},
{"proc":34,"func":"MPI","t0":487.2,"t1":495.3},
{"proc":34,"func":"DynamicsFast","t0":495.3,"t1":504.7},
{"proc":34,"func":"MPI","t0":504.7,"t1":540.4},
{"proc":34,"func":"DynamicsFast","t0":540.4,"t1":551},
{"proc":34,"func":"MPI","t0":551,"t1":553},
{"proc":34,"func":"DynamicsFast","t0":553,"t1":563},
{"proc":34,"func":"MPI","t0":563,"t1":565},
{"proc":34,"func":"DynamicsFast","t0":565,"t1":575.4},
{"proc":34,"func":"MPI","t0":575.4,"t1":578.5},
{"proc":34,"func":"DynamicsFast","t0":578.5,"t1":588},
{"proc":34,"func":"MPI","t0":588,"t1":590.5},
{"proc":34,"func":"DynamicsFast","t0":590.5,"t1":600.6},
{"proc":34,"func":"MPI","t0":600.6,"t1":605},
{"proc":34,"func":"DynamicsDiff","t0":605,"t1":609},
{"proc":34,"func":"MPI","t0":609,"t1":613},
{"proc":34,"func":"DynamicsDiff","t0":613,"t1":616},
{"proc":34,"func":"MPI","t0":616,"t1":624.5},
{"proc":34,"func":"DynamicsDiff","t0":624.5,"t1":655.9},
{"proc":34,"func":"DynamicsLeap","t0":655.9,"t1":667.6},
{"proc":34,"func":"Application","t0":667.6,"t1":674.6},
{"proc":34,"func":"DynamicsRela","t0":674.6,"t1":701.6},
{"proc":34,"func":"Application","t0":701.6,"t1":746.6,"lab":"498"},
{"proc":34,"func":"MPI","t0":746.6,"t1":798,"lab":"242"},
{"proc":34,"func":"Application","t0":798,"t1":804},
{"proc":34,"func":"MPI","t0":804,"t1":812},
{"proc":34,"func":"Application","t0":812,"t1":815},
{"proc":34,"func":"MPI","t0":815,"t1":819},
{"proc":34,"func":"Application","t0":819,"t1":824},
{"proc":34,"func":"MPI","t0":824,"t1":832.7},
{"proc":34,"func":"Application","t0":832.7,"t1":838.9},
{"proc":34,"func":"OrganizeInit","t0":838.9,"t1":863.9},
{"proc":34,"func":"Physics Turb","t0":863.9,"t1":969,"lab":"502"},
{"proc":34,"func":"Physics Soil","t0":969,"t1":974},
{"proc":34,"func":"MPI","t0":974,"t1":981},

{"proc":165,"func":"MPI","t0":49,"t1":981,"lab":"208"}
],
"messages": [
{"proc":0,"proc2":34,"t0":158.8,"t1":158.8,"msgs":9},
{"proc":0,"proc2":34,"t0":161.5,"t1":161,"msgs":1},
{"proc":0,"proc2":34,"t0":215.5,"t1":215.5,"msgs":9},
{"proc":0,"proc2":34,"t0":218.5,"t1":219,"msgs":1},
{"proc":0,"proc2":34,"t0":452.6,"t1":452.8,"msgs":5},
{"proc":0,"proc2":34,"t0":494.2,"t1":494.2,"msgs":5},
{"proc":0,"proc2":34,"t0":542,"t1":542,"msgs":2},
{"proc":0,"proc2":34,"t0":554.4,"t1":554.4,"msgs":3},
{"proc":0,"proc2":34,"t0":566.8,"t1":566.8,"msgs":3},
{"proc":0,"proc2":34,"t0":579.4,"t1":579.4,"msgs":3},
{"proc":0,"proc2":34,"t0":591.8,"t1":591.8,"msgs":3},
{"proc":0,"proc2":34,"t0":606.2,"t1":606.2,"msgs":6},
{"proc":0,"proc2":34,"t0":623.8,"t1":623.8,"msgs":6},
{"proc":0,"proc2":34,"t0":804.5,"t1":804.5,"msgs":10},
{"proc":0,"proc2":1,"t0":607.5,"t1":610.5,"msgs":1},
{"proc":1,"proc2":2,"t0":610.5,"t1":608,"msgs":1},
{"proc":2,"proc2":3,"t0":608,"t1":611,"msgs":1},
{"proc":3,"proc2":4,"t0":611,"t1":608.5,"msgs":1},
{"proc":4,"proc2":15,"t0":608.5,"t1":611,"msgs":1},
{"proc":15,"proc2":16,"t0":611,"t1":609,"msgs":1},
{"proc":16,"proc2":17,"t0":609,"t1":612,"msgs":1},
{"proc":17,"proc2":18,"t0":612,"t1":609,"msgs":1},
{"proc":18,"proc2":19,"t0":609,"t1":612.5,"msgs":1},
{"proc":19,"proc2":30,"t0":612.5,"t1":610,"msgs":1},
{"proc":30,"proc2":31,"t0":610,"t1":613,"msgs":1},
{"proc":31,"proc2":32,"t0":613,"t1":610,"msgs":1},
{"proc":32,"proc2":33,"t0":610,"t1":613,"msgs":1},
{"proc":33,"proc2":34,"t0":613,"t1":611,"msgs":1},
{"proc":0,"proc2":1,"t0":813,"t1":820,"msgs":1},
{"proc":1,"proc2":2,"t0":820,"t1":815,"msgs":1},
{"proc":2,"proc2":3,"t0":815,"t1":823,"msgs":1},
{"proc":3,"proc2":4,"t0":823,"t1":817,"msgs":1},
{"proc":4,"proc2":15,"t0":817,"t1":824,"msgs":1},
{"proc":15,"proc2":16,"t0":824,"t1":818,"msgs":1},
{"proc":16,"proc2":17,"t0":818,"t1":826,"msgs":1},
{"proc":17,"proc2":18,"t0":826,"t1":820,"msgs":1},
{"proc":18,"proc2":19,"t0":820,"t1":828,"msgs":1},
{"proc":19,"proc2":30,"t0":828,"t1":822,"msgs":1},
{"proc":30,"proc2":31,"t0":822,"t1":829,"msgs":1},
{"proc":31,"proc2":32,"t0":829,"t1":824,"msgs":1},
{"proc":32,"proc2":33,"t0":824,"t1":831,"msgs":1},
{"proc":33,"proc2":34,"t0":831,"t1":826,"msgs":1},
{"proc":0,"proc2":1,"t0":818,"t1":812,"msgs":1},
{"proc":1,"proc2":2,"t0":812,"t1":821,"msgs":1},
{"proc":2,"proc2":3,"t0":821,"t1":813,"msgs":1},
{"proc":3,"proc2":4,"t0":813,"t1":820,"msgs":1},
{"proc":4,"proc2":15,"t0":820,"t1":812,"msgs":1},
{"proc":15,"proc2":16,"t0":812,"t1":822,"msgs":1},
{"proc":16,"proc2":17,"t0":822,"t1":814,"msgs":1},
{"proc":17,"proc2":18,"t0":814,"t1":828,"msgs":1},
{"proc":18,"proc2":19,"t0":828,"t1":815,"msgs":1},
{"proc":19,"proc2":30,"t0":815,"t1":825,"msgs":1},
{"proc":30,"proc2":31,"t0":825,"t1":813,"msgs":1},
{"proc":31,"proc2":32,"t0":813,"t1":830,"msgs":1},
{"proc":32,"proc2":33,"t0":830,"t1":816,"msgs":1},
{"proc":33,"proc2":34,"t0":816,"t1":829,"msgs":1}
]
},
"hconcat": [
{"width": 23, "height": 900, "view": {"fill": "#a4aacb", "stroke": null}, "data": {"values": []}, "mark": "rect", "encoding": {}},
{"vconcat": [
  {"width": 1795, "height": 38, "view": {"fill": "#6b739b", "stroke": null},
   "title": {"text": "Vampir 4.0 – Timeline", "anchor": "start", "orient": "top", "frame": "group", "offset": -34, "dx": 53, "font": "DejaVu Sans", "fontStyle": "italic", "fontWeight": "normal", "fontSize": 19, "color": "#10102a"},
   "data": {"values": []}, "mark": "rect", "encoding": {}},
  {"width": 1795, "height": 21, "view": {"fill": "#15938e", "stroke": null},
   "data": {"values": [{"name": "lmpar_vampir.stf (1:26.049 - 1:26.981 = 0.933 s)"}]},
   "mark": {"type": "text", "font": "DejaVu Sans Mono", "fontWeight": "bold", "fontSize": 17, "color": "#f2f6f6"},
   "encoding": {"text": {"field": "name"}}},
  {"hconcat": [
    {"width": 1760, "height": 818,
     "data": {"name": "segments"},
     "title": {"text": "16/166 bars", "orient": "bottom", "anchor": "start", "frame": "group", "dx": 1566, "offset": -30, "font": "DejaVu Sans Mono", "fontWeight": "bold", "fontSize": 18, "color": "#000000"},
     "encoding": {
       "y": {"field": "proc", "type": "ordinal",
             "scale": {"domain": [0,1,2,3,4,15,16,17,18,19,30,31,32,33,34,165], "range": [15, 806], "paddingInner": 0.353, "paddingOuter": 0.1765},
             "axis": {"orient": "left", "title": null, "domain": false, "ticks": false, "tickSize": 0, "grid": false, "offset": -20.5,
                      "minExtent": 0, "maxExtent": 0,
                      "labelAlign": "left", "labelBaseline": "middle", "labelPadding": 0,
                      "labelFont": "DejaVu Sans Mono", "labelFontWeight": "bold", "labelFontSize": 19, "labelColor": "#000000",
                      "labelExpr": "'Process ' + datum.label"}}
     },
     "layer": [
       {"mark": {"type": "bar"},
        "encoding": {
          "x": {"field": "t0", "type": "quantitative",
                "scale": {"domain": [49, 981], "range": [217.5, 1547], "nice": false, "zero": false},
                "axis": {"orient": "top", "title": null, "values": [200, 400, 600, 800], "offset": -17,
                         "minExtent": 0, "maxExtent": 0,
                         "labelExpr": "'1:' + format(26 + datum.value / 1000, '.1f')",
                         "domain": false, "ticks": false, "tickSize": 0, "labelPadding": 1, "labelBaseline": "alphabetic", "labelFlush": false,
                         "labelFont": "DejaVu Sans Mono", "labelFontWeight": "bold", "labelFontSize": 18, "labelColor": "#000000",
                         "grid": true, "gridColor": "#000000", "gridDash": [5, 4], "gridWidth": 1.5, "gridOpacity": 1, "zindex": 1}},
          "x2": {"field": "t1"},
          "color": {"field": "func", "type": "nominal",
                    "scale": {"domain": ["MPI","Application","OrganizeInit","Physics Turb","DynamicsAdve","DynamicsFast","DynamicsSlow","DynamicsRela","DynamicsLeap","DynamicsDiff","Physics Soil"],
                              "range": ["#ff0000","#00ff40","#bebebe","#a2ff00","#0096ff","#00f0ff","#0041b8","#0060e6","#5b7a2a","#3000ff","#ff5000"]},
                    "legend": {"title": null, "orient": "none", "legendX": 1554, "legendY": 18, "padding": 0,
                               "symbolType": "M-1,-0.65H1V0.65H-1Z", "symbolSize": 196, "symbolStrokeWidth": 0, "symbolOpacity": 1,
                               "labelFont": "DejaVu Sans Mono", "labelFontWeight": "bold", "labelFontSize": 16, "labelColor": "#000000",
                               "labelOffset": 2, "rowPadding": 0.7, "labelLimit": 300}}
        }},
       {"data": {"name": "messages"},
        "mark": {"type": "rule", "color": "#000000"},
        "encoding": {
          "x": {"field": "t0", "type": "quantitative", "scale": {"domain": [49, 981], "range": [217.5, 1547], "nice": false, "zero": false}},
          "x2": {"field": "t1"},
          "y2": {"field": "proc2"},
          "size": {"field": "msgs", "type": "quantitative", "scale": {"domain": [1, 10], "range": [1.2, 5]}, "legend": null}
        }},
       {"transform": [{"filter": "isValid(datum.lab)"}],
        "mark": {"type": "text", "align": "left", "baseline": "middle", "dx": 2, "dy": 1, "font": "DejaVu Sans Mono", "fontWeight": "bold", "fontSize": 17},
        "encoding": {
          "x": {"field": "t0", "type": "quantitative", "scale": {"domain": [49, 981], "range": [217.5, 1547], "nice": false, "zero": false}},
          "text": {"field": "lab"},
          "color": {"field": "func", "type": "nominal",
                    "scale": {"domain": ["MPI","Application","OrganizeInit","Physics Turb","DynamicsAdve","DynamicsFast","DynamicsSlow","DynamicsRela","DynamicsLeap","DynamicsDiff","Physics Soil"],
                              "range": ["#ffffff","#000000","#000000","#000000","#ffffff","#000000","#ffffff","#ffffff","#ffffff","#ffffff","#000000"]},
                    "legend": null}
        }}
     ],
     "resolve": {"scale": {"color": "independent"}, "legend": {"color": "independent"}}
    },
    {"width": 35, "height": 818, "view": {"fill": "#0e6d68", "stroke": null}, "data": {"values": []}, "mark": "rect", "encoding": {}}
  ], "spacing": 0},
  {"hconcat": [
    {"width": 1760, "height": 17, "view": {"fill": "#0e6b66", "stroke": null}, "data": {"values": []}, "mark": "rect", "encoding": {}},
    {"width": 35, "height": 17, "view": {"fill": "#c8c8c8", "stroke": null}, "data": {"values": []}, "mark": "rect", "encoding": {}}
  ], "spacing": 0},
  {"width": 1795, "height": 6, "view": {"fill": "#a4aacb", "stroke": null}, "data": {"values": []}, "mark": "rect", "encoding": {}}
], "spacing": 0},
{"width": 27, "height": 900, "view": {"fill": "#a4aacb", "stroke": null}, "data": {"values": []}, "mark": "rect", "encoding": {}}
]
}
